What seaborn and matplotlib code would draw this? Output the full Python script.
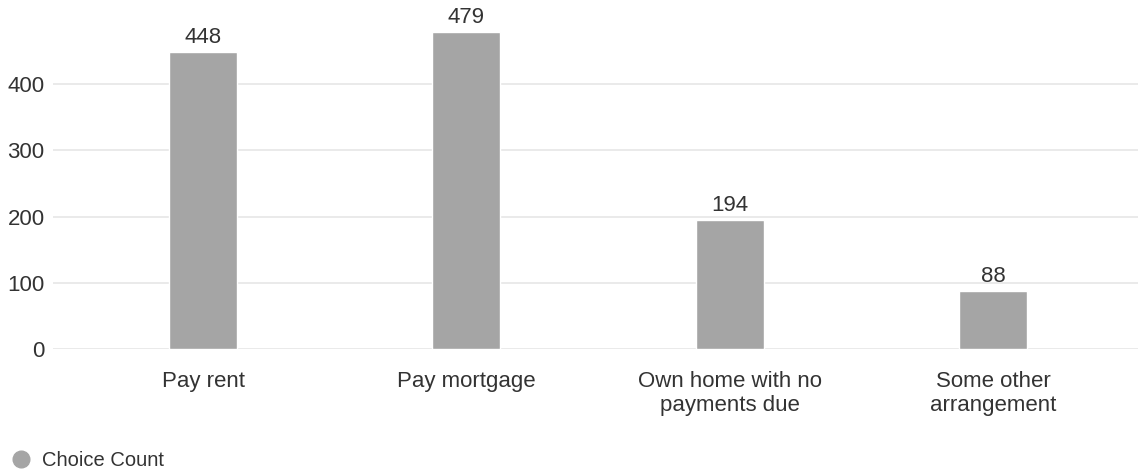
import matplotlib
matplotlib.use("Agg")
import matplotlib.pyplot as plt
import seaborn as sns
import pandas as pd
from matplotlib.lines import Line2D

categories = ["Pay rent", "Pay mortgage", "Own home with no\npayments due", "Some other\narrangement"]
counts = [448, 479, 194, 88]
yticks = [0, 100, 200, 300, 400]
series_name = "Choice Count"

sns.set_theme(style="white")
plt.rcParams["font.family"] = ["Liberation Sans", "DejaVu Sans"]

text_color = "#333333"
bar_color = "#a5a5a5"
grid_color = "#e6e6e6"

df = pd.DataFrame({"category": categories, "count": counts})

fig = plt.figure(figsize=(11.38, 4.74), dpi=100)
ax = fig.add_axes([0.0466, 0.2637, 0.9534, 0.7253])

sns.barplot(data=df, x="category", y="count", color=bar_color, width=0.258,
            saturation=1, ax=ax, zorder=3)

ax.set_xlim(-0.57, 3.551)
ax.set_ylim(0, 519)
ax.set_yticks(yticks)
ax.yaxis.grid(True, color=grid_color, linewidth=1.2, zorder=0)
ax.set_axisbelow(True)
for s in ax.spines.values():
    s.set_visible(False)

ax.set_xlabel("")
ax.set_ylabel("")
ax.tick_params(axis="x", length=0, pad=16, labelsize=16, labelcolor=text_color)
ax.tick_params(axis="y", length=0, pad=6, labelsize=16, labelcolor=text_color)
for lbl in ax.get_xticklabels():
    lbl.set_linespacing(1.15)

for container in ax.containers:
    ax.bar_label(container, labels=[str(v) for v in counts], padding=3,
                 fontsize=16, color=text_color)

handle = Line2D([], [], marker="o", linestyle="", markersize=12,
                markerfacecolor=bar_color, markeredgecolor=bar_color)
fig.legend([handle], [series_name], loc="center left",
           bbox_to_anchor=(-0.008, 0.028), frameon=False, fontsize=14.5,
           labelcolor=text_color, handletextpad=0.45, handlelength=1.2)

fig.savefig("out.png", dpi=100, facecolor="white")
